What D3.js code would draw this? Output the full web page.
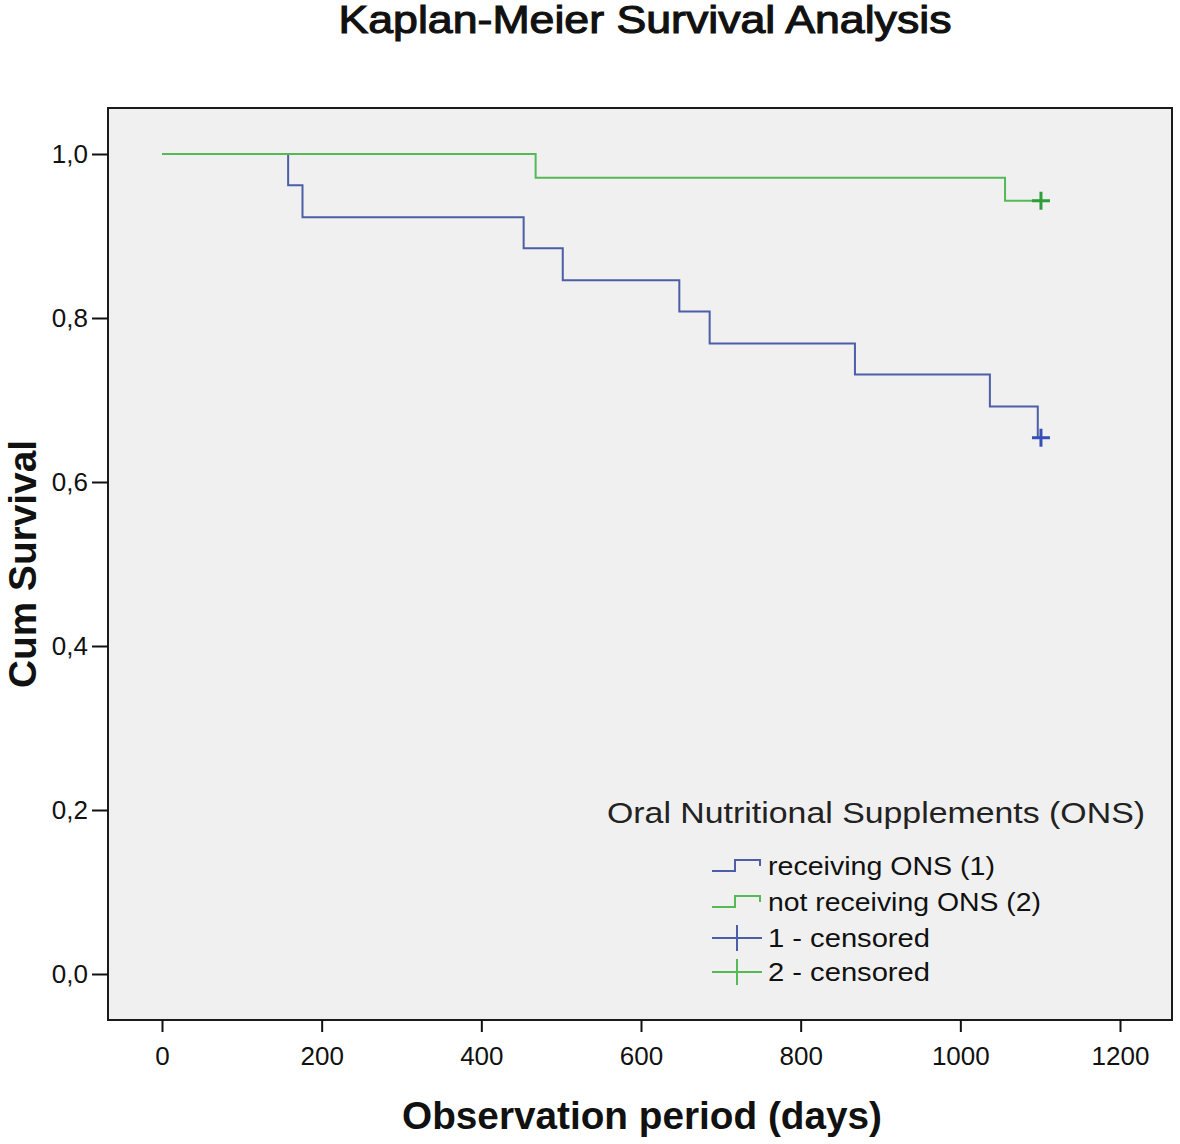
<!DOCTYPE html>
<html>
<head>
<meta charset="utf-8">
<script src="https://cdn.jsdelivr.net/npm/d3@7"></script>
<style>
  html, body { margin: 0; padding: 0; background: #ffffff; }
  svg { display: block; font-family: "Liberation Sans", Arial, sans-serif; }
</style>
</head>
<body>
<svg id="chart" width="1180" height="1144"></svg>
<script>
// ---- Data ----
const title = "Kaplan-Meier Survival Analysis";
const xTitle = "Observation period (days)";
const yTitle = "Cum Survival";
const legendTitle = "Oral Nutritional Supplements (ONS)";

const xTicks = [0, 200, 400, 600, 800, 1000, 1200];
const yTicks = [0, 0.2, 0.4, 0.6, 0.8, 1.0];

// Group 1: receiving ONS (event times in days, survival after each step)
const onsTimes = [0, 158, 176, 453, 502, 648, 686, 868, 1037, 1097];
const onsSurv  = [1.0, 0.962, 0.923, 0.885, 0.846, 0.808, 0.769, 0.731, 0.692, 0.654];
const onsCensorTimes = [1101];

// Group 2: not receiving ONS
const noOnsTimes = [0, 468, 1056];
const noOnsSurv  = [1.0, 0.971, 0.943];
const noOnsCensorTimes = [1101];

const legendLabels = ["receiving ONS (1)", "not receiving ONS (2)", "1 - censored", "2 - censored"];

// ---- Layout ----
const svg = d3.select("#chart");
const frame = { left: 108, right: 1172, top: 108, bottom: 1020 };
const x = d3.scaleLinear().domain([0, 1200]).range([162, 1120]);
const y = d3.scaleLinear().domain([0, 1]).range([974, 154]);

const blueLine = "#4c5ea6";
const greenLine = "#55b955";
const blueMark = "#3450b8";
const greenMark = "#2e9e3a";

// plot background
svg.append("rect")
  .attr("x", frame.left).attr("y", frame.top)
  .attr("width", frame.right - frame.left).attr("height", frame.bottom - frame.top)
  .attr("fill", "#f0f0f0");

// curves
function stepData(times, surv, censor) {
  const pts = times.map((t, i) => [t, surv[i]]);
  const lastT = d3.max(censor.concat(times));
  pts.push([lastT, surv[surv.length - 1]]);
  return pts;
}
const line = d3.line().x(d => x(d[0])).y(d => y(d[1])).curve(d3.curveStepAfter);

const groups = [
  { times: onsTimes, surv: onsSurv, censor: onsCensorTimes, color: blueLine, mark: blueMark },
  { times: noOnsTimes, surv: noOnsSurv, censor: noOnsCensorTimes, color: greenLine, mark: greenMark }
];

groups.forEach(g => {
  svg.append("path")
    .datum(stepData(g.times, g.surv, g.censor))
    .attr("fill", "none")
    .attr("stroke", g.color)
    .attr("stroke-width", 2)
    .attr("d", line);
  const lastS = g.surv[g.surv.length - 1];
  const cg = svg.append("g");
  g.censor.forEach(t => {
    const cx = x(t), cy = y(lastS);
    cg.append("line").attr("x1", cx - 9).attr("x2", cx + 9).attr("y1", cy).attr("y2", cy)
      .attr("stroke", g.mark).attr("stroke-width", 3);
    cg.append("line").attr("x1", cx).attr("x2", cx).attr("y1", cy - 9).attr("y2", cy + 9)
      .attr("stroke", g.mark).attr("stroke-width", 3);
  });
});

// frame
svg.append("rect")
  .attr("x", frame.left).attr("y", frame.top)
  .attr("width", frame.right - frame.left).attr("height", frame.bottom - frame.top)
  .attr("fill", "none").attr("stroke", "#1a1a1a").attr("stroke-width", 2);

// axes
const yAxis = d3.axisLeft(y).tickValues(yTicks).tickSize(16).tickPadding(4)
  .tickFormat(d => d3.format(".1f")(d).replace(".", ","));
const gy = svg.append("g").attr("transform", `translate(${frame.left},0)`).call(yAxis);
gy.select(".domain").remove();
gy.selectAll(".tick line").attr("stroke", "#111").attr("stroke-width", 2);
gy.selectAll(".tick text").attr("font-size", 26).attr("fill", "#111")
  .attr("font-family", "'Liberation Sans', Arial, sans-serif");

const xAxis = d3.axisBottom(x).tickValues(xTicks).tickSize(12).tickPadding(15)
  .tickFormat(d3.format("d"));
const gx = svg.append("g").attr("transform", `translate(0,${frame.bottom})`).call(xAxis);
gx.select(".domain").remove();
gx.selectAll(".tick line").attr("stroke", "#111").attr("stroke-width", 2);
gx.selectAll(".tick text").attr("font-size", 26).attr("fill", "#111")
  .attr("font-family", "'Liberation Sans', Arial, sans-serif");

// titles
svg.append("text").attr("x", 645).attr("y", 33).attr("text-anchor", "middle")
  .attr("font-size", 38).attr("fill", "#111")
  .attr("stroke", "#111").attr("stroke-width", 1.1)
  .attr("textLength", 613).attr("lengthAdjust", "spacingAndGlyphs")
  .text(title);

svg.append("text").attr("x", 642).attr("y", 1129).attr("text-anchor", "middle")
  .attr("font-size", 39).attr("font-weight", "bold").attr("fill", "#111")
  .attr("textLength", 480).attr("lengthAdjust", "spacingAndGlyphs")
  .text(xTitle);

svg.append("text")
  .attr("transform", "translate(36,564) rotate(-90)")
  .attr("text-anchor", "middle")
  .attr("font-size", 39).attr("font-weight", "bold").attr("fill", "#111")
  .attr("textLength", 248).attr("lengthAdjust", "spacingAndGlyphs")
  .text(yTitle);

// legend
const lg = svg.append("g");
lg.append("text").attr("x", 607).attr("y", 823)
  .attr("font-size", 30).attr("fill", "#222")
  .attr("textLength", 538).attr("lengthAdjust", "spacingAndGlyphs")
  .text(legendTitle);

const rowY = [866, 902, 938, 972];
const rowColors = [blueLine, greenLine, blueLine, greenLine];
const textLens = [227, 273, 162, 162];
legendLabels.forEach((lab, i) => {
  const yy = rowY[i];
  if (i < 2) {
    lg.append("path")
      .attr("d", `M712,${yy + 5} H735 V${yy - 6} H760 V${yy}`)
      .attr("fill", "none").attr("stroke", rowColors[i]).attr("stroke-width", 2);
  } else {
    lg.append("line").attr("x1", 712).attr("x2", 762).attr("y1", yy).attr("y2", yy)
      .attr("stroke", rowColors[i]).attr("stroke-width", 2);
    lg.append("line").attr("x1", 737).attr("x2", 737).attr("y1", yy - 13).attr("y2", yy + 13)
      .attr("stroke", rowColors[i]).attr("stroke-width", 2);
  }
  lg.append("text").attr("x", 768).attr("y", yy + 9)
    .attr("font-size", 26).attr("fill", "#111")
    .attr("textLength", textLens[i]).attr("lengthAdjust", "spacingAndGlyphs")
    .text(lab);
});
</script>
</body>
</html>
